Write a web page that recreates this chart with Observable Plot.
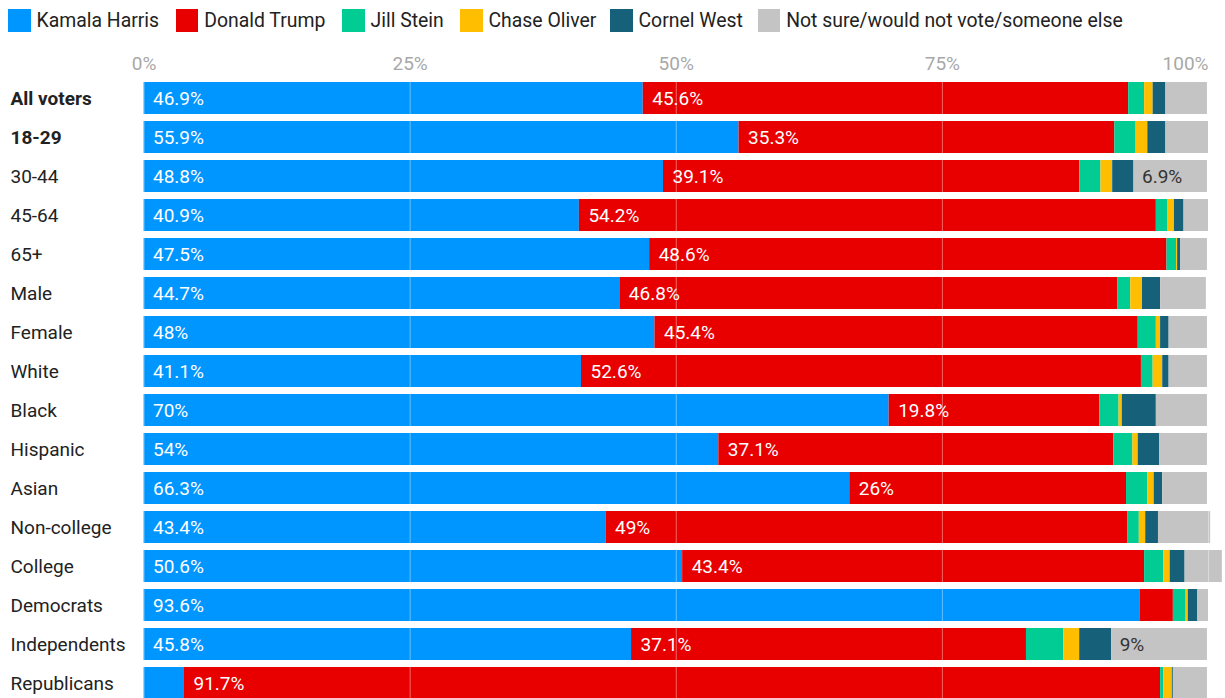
<!DOCTYPE html>
<html>
<head>
<meta charset="utf-8">
<script src="https://cdn.jsdelivr.net/npm/d3@7"></script>
<script src="https://cdn.jsdelivr.net/npm/@observablehq/plot@0.6"></script>
<style>
  html, body { margin: 0; padding: 0; background: #fff; }
  body { width: 1225px; height: 698px; overflow: hidden; font-family: Roboto, "Noto Sans", sans-serif; }
  #legend { height: 40px; position: relative; }
  .item { position: absolute; top: 9px; display: flex; align-items: center; height: 23px; }
  .sw { width: 22.5px; height: 22.5px; margin-right: 6px; }
  .lab { font-size: 19.4px; color: #222; white-space: nowrap; line-height: 23px; }
  #chart svg { display: block; }
</style>
</head>
<body>
<div id="legend"></div>
<div id="chart"></div>
<script>
const groups = ["All voters","18-29","30-44","45-64","65+","Male","Female","White","Black","Hispanic","Asian","Non-college","College","Democrats","Independents","Republicans"];
const boldGroups = ["All voters","18-29"];
const candidates = ["Kamala Harris","Donald Trump","Jill Stein","Chase Oliver","Cornel West","Not sure/would not vote/someone else"];
const colors = ["#0096ff","#e80000","#00cc94","#ffbe00","#166079","#c4c4c4"];

const harris = [46.9,55.9,48.8,40.9,47.5,44.7,48,41.1,70,54,66.3,43.4,50.6,93.6,45.8,3.8];
const trump  = [45.6,35.3,39.1,54.2,48.6,46.8,45.4,52.6,19.8,37.1,26,49,43.4,3.1,37.1,91.7];
const stein  = [1.5,2.0,2.0,1.1,0.9,1.2,1.7,1.1,1.8,1.8,2.0,1.1,1.8,1.2,3.5,0.3];
const oliver = [0.8,1.1,1.1,0.6,0.1,1.1,0.4,0.9,0.3,0.5,0.6,0.6,0.6,0.2,1.5,0.8];
const west   = [1.2,1.7,2.0,0.9,0.3,1.7,0.8,0.6,3.2,2.0,0.8,1.2,1.4,0.9,3.0,0.1];
const other  = [3.9,4.0,6.9,2.3,2.5,4.3,3.6,3.6,4.8,4.5,4.2,4.9,3.5,1.0,9,3.2];
const series = [harris, trump, stein, oliver, west, other];
const gridTicks = [0,25,50,75];
const endTick = [100];

const data = [];
groups.forEach((g, i) => {
  candidates.forEach((c, j) => {
    data.push({group: g, candidate: c, value: series[j][i]});
  });
});

// legend
const legend = document.getElementById("legend");
const legendX = [8, 175.7, 342, 460, 610, 757.7];
candidates.forEach((c, j) => {
  const it = document.createElement("div");
  it.className = "item";
  it.style.left = legendX[j] + "px";
  it.innerHTML = `<div class="sw" style="background:${colors[j]}"></div><div class="lab">${c}</div>`;
  legend.appendChild(it);
});

const fmt = v => `${v}%`;
const stackOpts = {x: "value", y: "group", z: "candidate", order: candidates};

const plot = Plot.plot({
  width: 1225,
  height: 658,
  marginLeft: 143.5,
  marginRight: 17,
  marginTop: 42,
  marginBottom: 0,
  style: {fontFamily: "Roboto, 'Noto Sans', sans-serif", background: "white", overflow: "visible"},
  x: {domain: [0, 100], axis: null},
  y: {domain: groups, range: [42.3, 659.3], paddingInner: 0.18, paddingOuter: 0, axis: null},
  color: {domain: candidates, range: colors},
  marks: [
    Plot.barX(data, Plot.stackX({...stackOpts, fill: "candidate", inset: 0})),
    Plot.ruleX([0,25,50,75,100], {stroke: "white", strokeOpacity: 0.4, strokeWidth: 1}),
    Plot.text(data, Plot.stackX1({...stackOpts,
      text: d => ((d.candidate === candidates[0] || d.candidate === candidates[1]) && d.value >= 5) ? fmt(d.value) : null,
      textAnchor: "start", dx: 9, fill: "white", fontSize: 19})),
    Plot.text(data, Plot.stackX1({...stackOpts,
      text: d => (d.candidate === candidates[5] && d.value >= 5) ? fmt(d.value) : null,
      textAnchor: "start", dx: 8, fill: "#333", fontSize: 19})),
    Plot.text(gridTicks, {x: d => d, frameAnchor: "top", lineAnchor: "bottom", dy: -12.5, text: d => `${d}%`, fill: "#a8a8a8", fontSize: 19}),
    Plot.text(endTick, {x: d => d, frameAnchor: "top", lineAnchor: "bottom", dy: -12.5, textAnchor: "end", text: d => `${d}%`, fill: "#a8a8a8", fontSize: 19}),
    Plot.text(groups.filter(g => boldGroups.includes(g)), {y: d => d, text: d => d, frameAnchor: "left", dx: -133.5, textAnchor: "start", fill: "#222", fontSize: 19, fontWeight: "bold"}),
    Plot.text(groups.filter(g => !boldGroups.includes(g)), {y: d => d, text: d => d, frameAnchor: "left", dx: -133.5, textAnchor: "start", fill: "#222", fontSize: 19})
  ]
});
document.getElementById("chart").appendChild(plot);
</script>
</body>
</html>
